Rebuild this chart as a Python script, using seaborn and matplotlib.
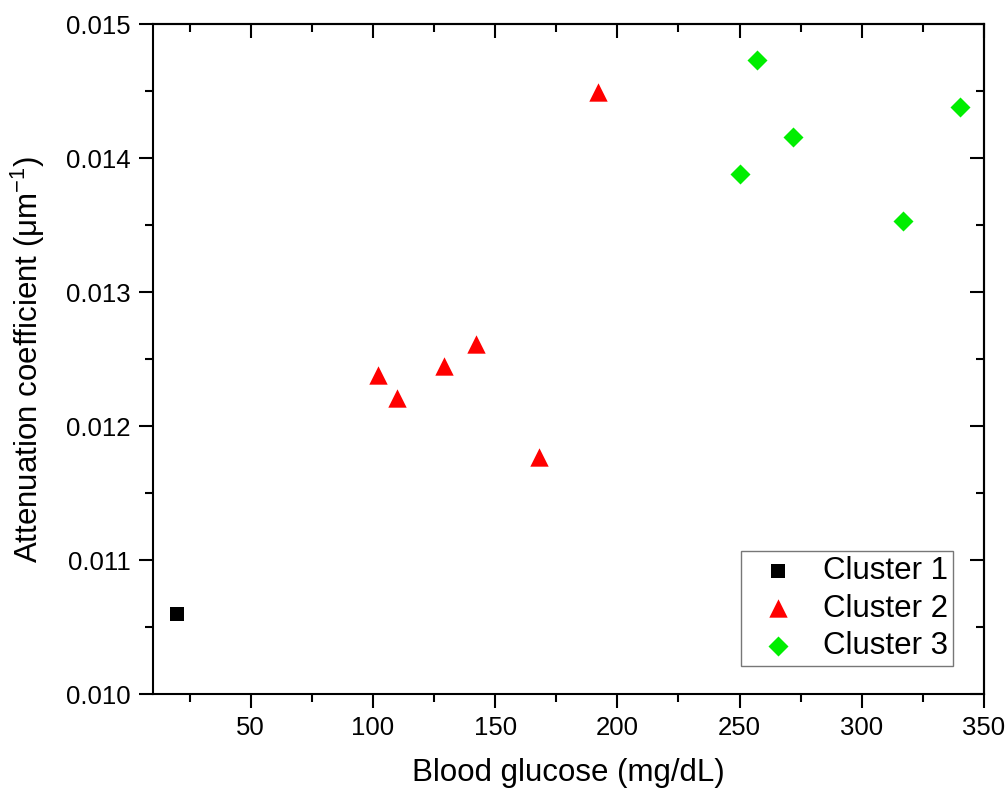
import numpy as np
import pandas as pd
import seaborn as sns
import matplotlib
matplotlib.use("Agg")
import matplotlib.pyplot as plt
from matplotlib.ticker import MultipleLocator, FormatStrFormatter

# ---- data ----
c1_glucose = [20]
c1_atten = [0.01060]
c2_glucose = [102, 110, 129, 142, 168, 192]
c2_atten = [0.01238, 0.01221, 0.01245, 0.01261, 0.01177, 0.01449]
c3_glucose = [250, 257, 272, 317, 340]
c3_atten = [0.01388, 0.01473, 0.01416, 0.01353, 0.01438]
cluster_names = ["Cluster 1", "Cluster 2", "Cluster 3"]
x_ticks = [50, 100, 150, 200, 250, 300, 350]
y_ticks = [0.010, 0.011, 0.012, 0.013, 0.014, 0.015]

df = pd.concat([
    pd.DataFrame({"glucose": c1_glucose, "atten": c1_atten, "cluster": cluster_names[0]}),
    pd.DataFrame({"glucose": c2_glucose, "atten": c2_atten, "cluster": cluster_names[1]}),
    pd.DataFrame({"glucose": c3_glucose, "atten": c3_atten, "cluster": cluster_names[2]}),
])

sns.set_style("ticks")
plt.rcParams["font.family"] = ["Liberation Sans", "DejaVu Sans"]
plt.rcParams["mathtext.fontset"] = "custom"
plt.rcParams["mathtext.rm"] = "Liberation Sans"
plt.rcParams["mathtext.it"] = "Liberation Sans"
plt.rcParams["text.color"] = "black"
plt.rcParams["axes.labelcolor"] = "black"
plt.rcParams["xtick.color"] = "black"
plt.rcParams["ytick.color"] = "black"

fig = plt.figure(figsize=(10.08, 7.96), dpi=100)
ax = fig.add_axes([0.1518, 0.1281, 0.8244, 0.8417])

styles = {
    "Cluster 1": dict(marker="s", color="#000000", s=100),
    "Cluster 2": dict(marker="^", color="#FF0000", s=175),
    "Cluster 3": dict(marker="D", color="#00EE00", s=104),
}
for name in cluster_names:
    sub = df[df["cluster"] == name]
    st = styles[name]
    sns.scatterplot(data=sub, x="glucose", y="atten", marker=st["marker"],
                    color=st["color"], s=st["s"], linewidth=0, label=name, ax=ax)

ax.set_xlim(10, 350)
ax.set_ylim(0.010, 0.015)
ax.set_xticks(x_ticks)
ax.set_yticks(y_ticks)
ax.xaxis.set_minor_locator(MultipleLocator(25))
ax.yaxis.set_minor_locator(MultipleLocator(0.0005))
ax.yaxis.set_major_formatter(FormatStrFormatter("%.3f"))

for sp in ax.spines.values():
    sp.set_visible(True)
    sp.set_linewidth(1.5)
    sp.set_color("black")

ax.tick_params(which="major", direction="out", length=10, width=1.5, labelsize=18.5, pad=6,
               colors="black", labelcolor="black")
ax.tick_params(which="minor", direction="out", length=6, width=1.5)

secx = ax.secondary_xaxis("top")
secx.set_xticks(x_ticks)
secx.xaxis.set_minor_locator(MultipleLocator(25))
secx.tick_params(which="major", direction="in", length=10, width=1.5, labeltop=False)
secx.tick_params(which="minor", direction="in", length=6, width=1.5)
secx.spines["top"].set_linewidth(1.5)
secy = ax.secondary_yaxis("right")
secy.set_yticks(y_ticks)
secy.yaxis.set_minor_locator(MultipleLocator(0.0005))
secy.tick_params(which="major", direction="in", length=10, width=1.5, labelright=False)
secy.tick_params(which="minor", direction="in", length=6, width=1.5)
secy.spines["right"].set_linewidth(1.5)

ax.set_xlabel("Blood glucose (mg/dL)", fontsize=22.5, labelpad=13, color="black")
ax.set_ylabel("Attenuation coefficient (μm$^{-1}$)", fontsize=22.5, labelpad=14, color="black")

leg = ax.legend(loc="lower right", bbox_to_anchor=((953 - 153) / 831, (694 - 666) / 670),
                borderaxespad=0, fontsize=22.5, frameon=True, fancybox=False,
                edgecolor="#555555", handletextpad=0.4, labelspacing=0.25,
                borderpad=0.15, handlelength=2.07)
leg.get_frame().set_linewidth(1.0)
for t in leg.get_texts():
    t.set_color("black")

fig.savefig("out.png", dpi=100, facecolor="white")
